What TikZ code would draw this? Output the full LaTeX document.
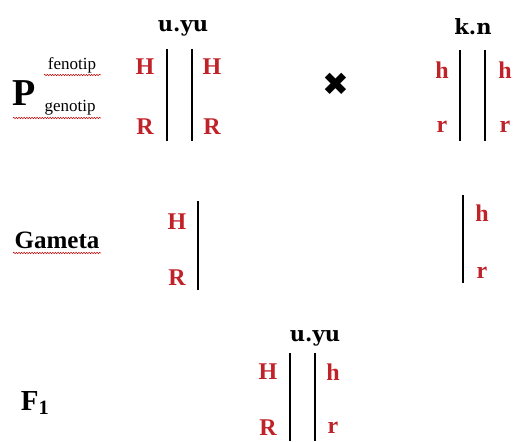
\documentclass[tikz,border=0pt]{standalone}
\usepackage{fontspec}
\setmainfont{Liberation Serif}
\newfontfamily\symfont{DejaVu Sans}
\newfontfamily\parfont{DejaVu Serif}
\usetikzlibrary{decorations.pathmorphing}
\definecolor{alred}{RGB}{192,34,42}

\begin{document}
\begin{tikzpicture}[x=1pt, y=-1pt,
  allele/.style={font=\fontsize{24}{24}\selectfont\bfseries, text=alred, inner sep=1pt},
  parent/.style={font=\parfont\fontsize{21}{21}\selectfont\bfseries},
  lbl/.style={font=\fontsize{17}{17}\selectfont, inner sep=0pt},
  chrom/.style={line width=2.8pt},
  spell/.style={red!75!black, line width=0.5pt, decorate, decoration={snake, amplitude=0.7pt, segment length=2.6pt}}
]
\useasboundingbox (0,0) rectangle (513,441);

% P generation
\node[font=\fontsize{38}{38}\selectfont\bfseries, inner sep=0pt] (pBig) at (24,93) {P};
\node[lbl] (fenotip) at (72,65) {fenotip};
\node[lbl] (genotip) at (70,108) {genotip};
\draw[spell] (44,75) -- (101,75);
\draw[spell] (13,118) -- (101,118);

\node[parent] (pMom) at (183,28) {u.yu};
\coordinate (pMomAt) at (167,49);  \coordinate (pMomAb) at (167,141);
\coordinate (pMomBt) at (192,49);  \coordinate (pMomBb) at (192,141);
\draw[chrom] (pMomAt) -- (pMomAb);
\draw[chrom] (pMomBt) -- (pMomBb);
\node[allele] (pMomH1) at (145,67) {H};
\node[allele] (pMomH2) at (212,67) {H};
\node[allele] (pMomR1) at (145,127) {R};
\node[allele] (pMomR2) at (212,127) {R};

\node[font=\symfont\fontsize{32}{32}\selectfont] (cross) at (336,84) {✖};

\node[parent] (pDad) at (473,27) {k.n};
\coordinate (pDadAt) at (460,50);  \coordinate (pDadAb) at (460,141);
\coordinate (pDadBt) at (485,50);  \coordinate (pDadBb) at (485,141);
\draw[chrom] (pDadAt) -- (pDadAb);
\draw[chrom] (pDadBt) -- (pDadBb);
\node[allele] (pDadh1) at (442,70) {h};
\node[allele] (pDadh2) at (505,70) {h};
\node[allele] (pDadr1) at (442,127) {r};
\node[allele] (pDadr2) at (505,127) {r};

% gametes
\node[font=\fontsize{25}{25}\selectfont\bfseries, inner sep=0pt] (gameta) at (57,240) {Gameta};
\draw[spell] (13,253) -- (101,253);

\coordinate (gMomt) at (198,201);  \coordinate (gMomb) at (198,290);
\draw[chrom] (gMomt) -- (gMomb);
\node[allele] (gMomH) at (177,222) {H};
\node[allele] (gMomR) at (177,278) {R};

\coordinate (gDadt) at (463,195);  \coordinate (gDadb) at (463,283);
\draw[chrom] (gDadt) -- (gDadb);
\node[allele] (gDadh) at (482,213) {h};
\node[allele] (gDadr) at (482,273) {r};

% F1
\node[font=\fontsize{29}{29}\selectfont\bfseries] (fOne) at (35,403) {F\textsubscript{1}};

\node[parent] (fKid) at (315,338) {u.yu};
\coordinate (fKidAt) at (290,353);  \coordinate (fKidAb) at (290,441);
\coordinate (fKidBt) at (315,353);  \coordinate (fKidBb) at (315,441);
\draw[chrom] (fKidAt) -- (fKidAb);
\draw[chrom] (fKidBt) -- (fKidBb);
\node[allele] (fKidH) at (268,372) {H};
\node[allele] (fKidh) at (333,372) {h};
\node[allele, inner sep=0pt] (fKidR) at (268,428) {R};
\node[allele, inner sep=0pt] (fKidr) at (333,428) {r};
\end{tikzpicture}
\end{document}
